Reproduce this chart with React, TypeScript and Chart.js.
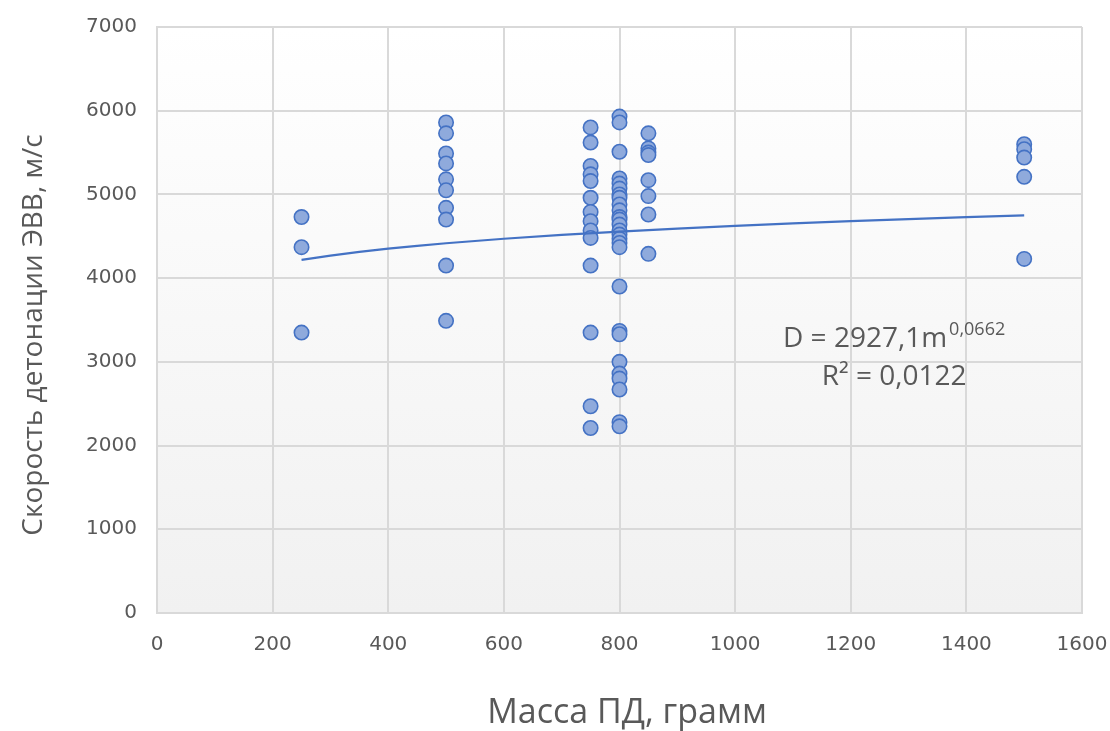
import React, { useEffect, useRef } from "react";
import { Chart, registerables } from "chart.js";

Chart.register(...registerables);

// Масса ПД (грамм) for each group of measurements
const massGroups = [250, 500, 750, 800, 850, 1500];

// Скорость детонации ЭВВ (м/с) per mass group
const speeds250 = [4730, 4370, 3350];
const speeds500 = [5860, 5730, 5490, 5370, 5180, 5050, 4840, 4700, 4150, 3490];
const speeds750 = [5800, 5620, 5340, 5240, 5160, 4960, 4790, 4680, 4570, 4480, 4150, 3350, 2470, 2210];
const speeds800 = [5930, 5860, 5510, 5190, 5130, 5070, 5000, 4960, 4880, 4810, 4730, 4700, 4640, 4570, 4520, 4470, 4420, 4370, 3900, 3370, 3330, 3000, 2860, 2800, 2670, 2280, 2230];
const speeds850 = [5730, 5550, 5500, 5470, 5170, 4980, 4760, 4290];
const speeds1500 = [5600, 5540, 5440, 5210, 4230];

const speedGroups = [speeds250, speeds500, speeds750, speeds800, speeds850, speeds1500];

// Power trend line D = a * m^b (Excel trendline)
const trendCoef = 2927.1;
const trendExp = 0.0662;
const trendMasses = [250, 300, 350, 400, 450, 500, 600, 700, 800, 900, 1000, 1100, 1200, 1300, 1400, 1500];

const xTicks = [0, 200, 400, 600, 800, 1000, 1200, 1400, 1600];
const yTicks = [0, 1000, 2000, 3000, 4000, 5000, 6000, 7000];

const eqMain = "D = 2927,1m";
const eqSup = "0,0662";
const eqR2 = "R² = 0,0122";

const xTitle = "Масса ПД, грамм";
const yTitle = "Скорость детонации ЭВВ, м/с";

const TEXT = "#595959";
const GRID = "#d9d9d9";

const bgPlugin = {
  id: "bgGradient",
  beforeDraw(chart: any) {
    const { ctx, chartArea } = chart;
    if (!chartArea) return;
    const { left, top, right, bottom } = chartArea;
    const g = ctx.createLinearGradient(0, top, 0, bottom);
    g.addColorStop(0, "#ffffff");
    g.addColorStop(1, "#f1f1f1");
    ctx.save();
    ctx.fillStyle = g;
    ctx.fillRect(left, top, right - left, bottom - top);
    ctx.restore();
  },
};

const textPlugin = {
  id: "texts",
  afterDraw(chart: any) {
    const { ctx, scales } = chart;
    ctx.save();
    ctx.fillStyle = TEXT;

    // axis titles
    ctx.font = "34px 'Open Sans'";
    ctx.textAlign = "center";
    ctx.textBaseline = "middle";
    ctx.fillText(xTitle, 627, 713);

    ctx.save();
    ctx.translate(34, 335);
    ctx.rotate(-Math.PI / 2);
    ctx.font = "28px 'Open Sans'";
    ctx.fillText(yTitle, 0, 0);
    ctx.restore();

    // trendline equation
    const cx = scales.x.getPixelForValue(1275);
    const y1 = scales.y.getPixelForValue(3178);
    const y2 = scales.y.getPixelForValue(2724);
    ctx.textBaseline = "alphabetic";
    ctx.font = "28px 'Open Sans'";
    const wMain = ctx.measureText(eqMain).width;
    ctx.font = "18px 'Open Sans'";
    const wSup = ctx.measureText(eqSup).width;
    const start = cx - (wMain + wSup + 2) / 2;
    ctx.textAlign = "left";
    ctx.font = "28px 'Open Sans'";
    ctx.fillText(eqMain, start, y1);
    ctx.font = "18px 'Open Sans'";
    ctx.fillText(eqSup, start + wMain + 2, y1 - 12);
    ctx.font = "28px 'Open Sans'";
    ctx.textAlign = "center";
    ctx.fillText(eqR2, cx, y2);
    ctx.restore();
  },
};

export default function App() {
  const ref = useRef<HTMLCanvasElement | null>(null);

  useEffect(() => {
    if (!ref.current) return;
    const points: { x: number; y: number }[] = [];
    massGroups.forEach((m, i) => {
      speedGroups[i].forEach((v) => points.push({ x: m, y: v }));
    });
    const trend = trendMasses.map((m) => ({ x: m, y: trendCoef * Math.pow(m, trendExp) }));

    const chart = new Chart(ref.current, {
      type: "scatter",
      data: {
        datasets: [
          {
            label: "data",
            data: points,
            pointRadius: 7.2,
            pointHoverRadius: 7.2,
            pointBackgroundColor: "#8faadc",
            pointBorderColor: "#4472c4",
            pointBorderWidth: 1.6,
            showLine: false,
            order: 2,
          },
          {
            label: "trend",
            data: trend,
            showLine: true,
            borderColor: "#4472c4",
            borderWidth: 2.2,
            pointRadius: 0,
            fill: false,
            tension: 0,
            order: 1,
          },
        ] as any,
      },
      options: {
        animation: false,
        responsive: false,
        events: [],
        layout: { padding: { top: 27, right: 28, bottom: 0, left: 0 } },
        plugins: {
          legend: { display: false },
          tooltip: { enabled: false },
        },
        scales: {
          x: {
            type: "linear",
            min: 0,
            max: 1600,
            afterBuildTicks: (s: any) => {
              s.ticks = xTicks.map((v) => ({ value: v }));
            },
            afterFit: (s: any) => {
              s.height = 118;
              s.paddingLeft = 0;
              s.paddingRight = 0;
            },
            ticks: {
              color: TEXT,
              font: { family: "'DejaVu Sans'", size: 20 },
              padding: 20,
              callback: (v: any) => String(v),
            },
            grid: { color: GRID, lineWidth: 2, drawTicks: false },
            border: { display: true, color: GRID, width: 2 },
          },
          y: {
            type: "linear",
            min: 0,
            max: 7000,
            afterBuildTicks: (s: any) => {
              s.ticks = yTicks.map((v) => ({ value: v }));
            },
            afterFit: (s: any) => {
              s.width = 157;
              s.paddingTop = 0;
              s.paddingBottom = 0;
            },
            ticks: {
              color: TEXT,
              font: { family: "'DejaVu Sans'", size: 20 },
              padding: 20,
              callback: (v: any) => String(v),
            },
            grid: { color: GRID, lineWidth: 2, drawTicks: false },
            border: { display: true, color: GRID, width: 2 },
          },
        },
      },
      plugins: [bgPlugin, textPlugin],
    });
    return () => chart.destroy();
  }, []);

  return (
    <div style={{ position: "absolute", left: 0, top: 0, width: 1110, height: 731, background: "#fff" }}>
      <canvas ref={ref} width={1110} height={731} style={{ width: 1110, height: 731, display: "block" }} />
    </div>
  );
}
